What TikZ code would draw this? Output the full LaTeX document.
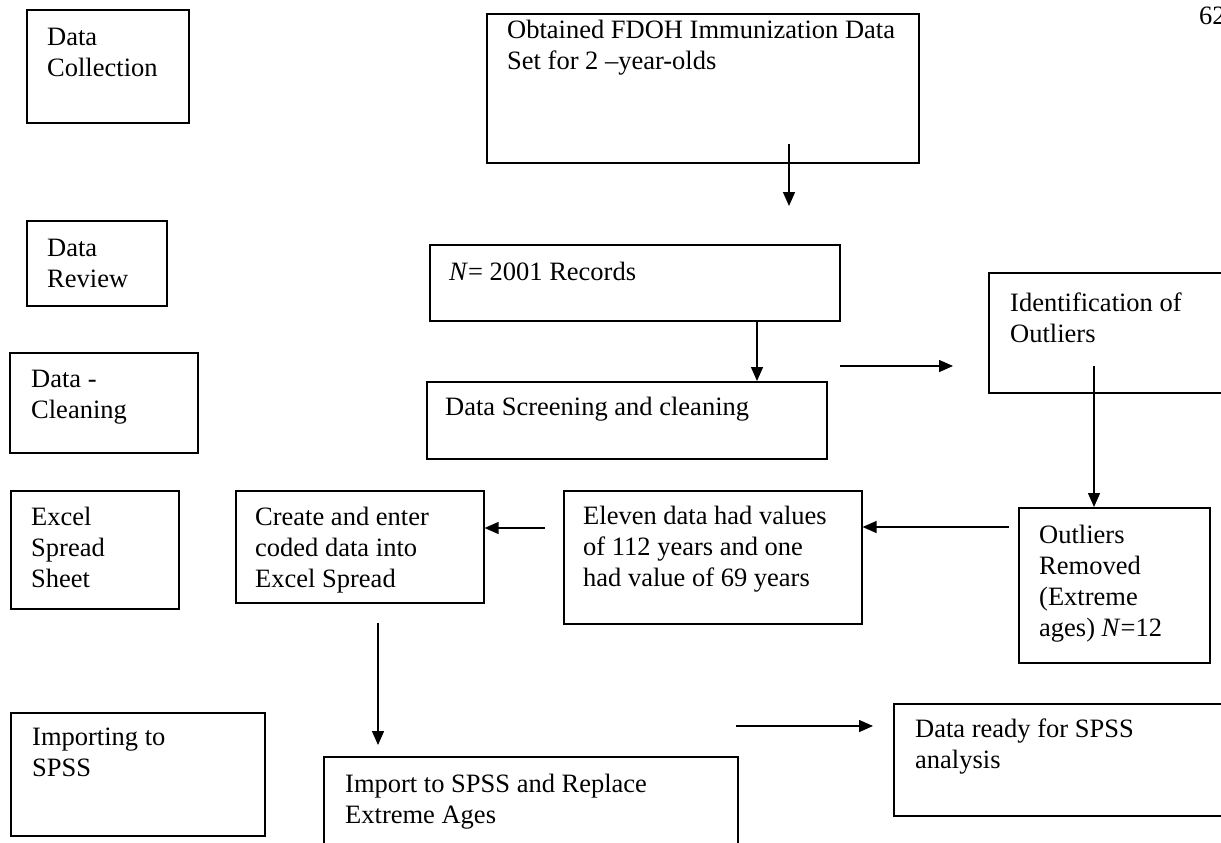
\documentclass[tikz,border=0pt]{standalone}
\usepackage{fontspec}
\setmainfont{Liberation Serif}
\usetikzlibrary{arrows.meta}
\newcommand\bodyfont{\fontsize{26.5}{31}\selectfont}
\newcommand\mylines[1]{\begin{tabular}[t]{@{}l@{}}#1\end{tabular}}
\begin{document}
\begin{tikzpicture}[x=1pt,y=-1pt,
  box/.style={draw, line width=1.6pt, inner sep=0pt, anchor=north west},
  txt/.style={anchor=base west, inner sep=0pt, font=\bodyfont},
  arr/.style={line width=1.4pt, -{Triangle[length=14pt,width=12pt]}}]
\clip (0,0) rectangle (1221,843);
\fill[white] (0,0) rectangle (1221,843);
% boxes and texts
\node[box, minimum width=162, minimum height=113] (dc) at (26,9) {};
\node[txt] (dct) at (47,46) {\mylines{Data\\Collection}};
\node[box, minimum width=432, minimum height=149] (obt) at (486,13) {};
\node[txt] (obtt) at (507,39) {\mylines{Obtained FDOH Immunization Data\\Set for 2 –year-olds}};
\node[box, minimum width=140, minimum height=85] (dr) at (26,220) {};
\node[txt] (drt) at (47,256) {\mylines{Data\\Review}};
\node[box, minimum width=410, minimum height=76] (n) at (429,244) {};
\node[txt] (nt) at (449,280) {\textit{N}= 2001 Records};
\node[box, minimum width=188, minimum height=100] (dcl) at (9,352) {};
\node[txt] (dclt) at (31,387) {\mylines{Data -\\Cleaning}};
\node[box, minimum width=400, minimum height=77] (scr) at (426,381) {};
\node[txt] (scrt) at (445,415) {Data Screening and cleaning};
\node[box, minimum width=245, minimum height=120] (id) at (988,272) {};
\node[txt] (idt) at (1010,311) {\mylines{Identification of\\Outliers}};
\node[box, minimum width=168, minimum height=118] (ex) at (10,490) {};
\node[txt] (ext) at (31,525) {\mylines{Excel\\Spread\\Sheet}};
\node[box, minimum width=248, minimum height=112] (cr) at (235,490) {};
\node[txt] (crt) at (255,525) {\mylines{Create and enter\\coded data into\\Excel Spread}};
\node[box, minimum width=298, minimum height=133] (el) at (563,490) {};
\node[txt] (elt) at (583,524) {\mylines{Eleven data had values\\of 112 years and one\\had value of 69 years}};
\node[box, minimum width=191, minimum height=155] (or) at (1018,507) {};
\node[txt] (ort) at (1039,543) {\mylines{Outliers\\Removed\\(Extreme\\ages) \textit{N}=12}};
\node[box, minimum width=254, minimum height=123] (imp) at (10,712) {};
\node[txt] (impt) at (32,745) {\mylines{Importing to\\SPSS}};
\node[box, minimum width=414, minimum height=110] (im) at (323,756) {};
\node[txt] (imt) at (345,792) {\mylines{Import to SPSS and Replace\\Extreme Ages}};
\node[box, minimum width=340, minimum height=112] (rd) at (893,703) {};
\node[txt] (rdt) at (915,737) {\mylines{Data ready for SPSS\\analysis}};
\node[txt] (pg) at (1199,25) {62};
% connectors
\coordinate (a1s) at (789,144); \coordinate (a1e) at (789,206);
\draw[arr] (a1s) -- (a1e);
\coordinate (a2) at (757,0);
\draw[arr] (n.south -| a2) -- (scr.north -| a2);
\coordinate (a3s) at (840,366); \coordinate (a3e) at (953,366);
\draw[arr] (a3s) -- (a3e);
\coordinate (a4) at (1094,366);
\draw[arr] (a4) -- (or.north -| a4);
\coordinate (a5s) at (545,528);
\draw[arr] (a5s) -- (cr.east |- a5s);
\coordinate (a6s) at (1009,527);
\draw[arr] (a6s) -- (el.east |- a6s);
\coordinate (a7s) at (378,623); \coordinate (a7e) at (378,745);
\draw[arr] (a7s) -- (a7e);
\coordinate (a8s) at (736,726); \coordinate (a8e) at (873,726);
\draw[arr] (a8s) -- (a8e);
\end{tikzpicture}
\end{document}
